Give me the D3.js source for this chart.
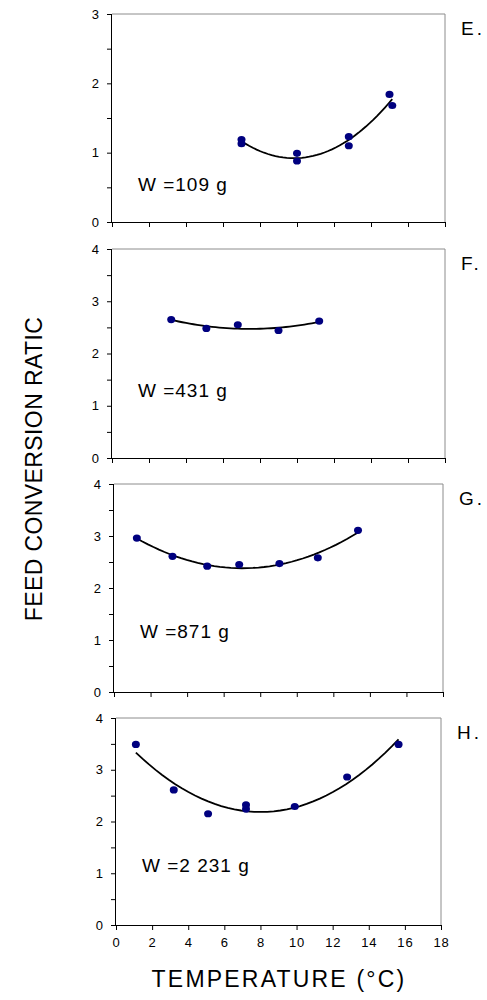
<!DOCTYPE html>
<html>
<head>
<meta charset="utf-8">
<script src="https://cdn.jsdelivr.net/npm/d3@7"></script>
<style>
  body { margin: 0; background: #fff; }
  svg text { font-family: "Liberation Sans", Arial, sans-serif; fill: #000; }
  .axis path, .axis line { stroke: #000; stroke-width: 1; }
  .axis text { font-size: 13px; }
  .x-axis text { letter-spacing: 0.8px; }
</style>
</head>
<body>
<svg id="chart" width="487" height="1000"></svg>
<script>
/*** DATA ***/
let panel_ids = ["E.", "F.", "G.", "H."],
    weight_labels = ["W =109 g", "W =431 g", "W =871 g", "W =2 231 g"],
    y_max = [3, 4, 4, 4],
    x_ticks = [0, 2, 4, 6, 8, 10, 12, 14, 16, 18];

let temp_e = [7.0, 7.0, 10.0, 10.0, 12.8, 12.8, 15.0, 15.15],
    fcr_e  = [1.19, 1.13, 0.99, 0.88, 1.23, 1.10, 1.84, 1.68];

let temp_f = [3.2, 5.1, 6.8, 9.0, 11.2],
    fcr_f  = [2.65, 2.48, 2.55, 2.44, 2.62];

let temp_g = [1.25, 3.2, 5.1, 6.85, 9.05, 11.15, 13.35],
    fcr_g  = [2.96, 2.61, 2.42, 2.45, 2.47, 2.58, 3.11];

let temp_h = [1.1, 3.2, 5.1, 7.2, 7.2, 9.9, 12.8, 15.65],
    fcr_h  = [3.49, 2.61, 2.15, 2.32, 2.24, 2.29, 2.86, 3.49];

let temps = [temp_e, temp_f, temp_g, temp_h],
    fcrs  = [fcr_e, fcr_f, fcr_g, fcr_h];

/*** LAYOUT ***/
let boxes = [
    {top: 14,  bottom: 222, left: 112, right: 445, label_dy: 177},
    {top: 249, bottom: 458, left: 112, right: 445, label_dy: 148},
    {top: 484, bottom: 692, left: 114, right: 443, label_dy: 154},
    {top: 718, bottom: 925, left: 116, right: 441, label_dy: 154}
];

let svg = d3.select("#chart");

// least squares quadratic (the trendline of the original chart)
function quad_fit(xs, ys) {
    let s = [0, 0, 0, 0, 0], t = [0, 0, 0];
    xs.forEach((x, i) => {
        for (let k = 0; k < 5; k++) s[k] += Math.pow(x, k);
        for (let k = 0; k < 3; k++) t[k] += ys[i] * Math.pow(x, k);
    });
    let m = [[s[0], s[1], s[2], t[0]], [s[1], s[2], s[3], t[1]], [s[2], s[3], s[4], t[2]]];
    for (let i = 0; i < 3; i++) {
        for (let j = i + 1; j < 3; j++) {
            let f = m[j][i] / m[i][i];
            for (let k = i; k < 4; k++) m[j][k] -= f * m[i][k];
        }
    }
    let c = [0, 0, 0];
    for (let i = 2; i >= 0; i--) {
        let v = m[i][3];
        for (let k = i + 1; k < 3; k++) v -= m[i][k] * c[k];
        c[i] = v / m[i][i];
    }
    return (x) => c[0] + c[1] * x + c[2] * x * x;
}

panel_ids.forEach((id, p) => {
    let b = boxes[p],
        xs = temps[p],
        ys = fcrs[p];

    let x = d3.scaleLinear().domain([0, 18]).range([b.left, b.right]),
        y = d3.scaleLinear().domain([0, y_max[p]]).range([b.bottom, b.top]);

    let g = svg.append("g");

    // grey frame on top and right
    g.append("path")
        .attr("d", `M${b.left},${b.top}H${b.right}V${b.bottom}`)
        .attr("fill", "none")
        .attr("stroke", "#8c8c8c")
        .attr("stroke-width", 1);

    // y axis: major ticks with labels, minor at halves
    g.append("g")
        .classed("axis", true)
        .attr("transform", `translate(${b.left},0)`)
        .call(d3.axisLeft(y).tickValues(d3.range(0, y_max[p] + 0.01, 0.5))
            .tickSize(5).tickPadding(8)
            .tickFormat((d) => Number.isInteger(d) ? d : ""))
        .call((a) => a.select(".domain").attr("d", `M-0.5,${b.top}V${b.bottom}`));

    // x axis
    g.append("g")
        .classed("axis", true)
        .classed("x-axis", true)
        .attr("transform", `translate(0,${b.bottom})`)
        .call(d3.axisBottom(x).tickValues(x_ticks).tickSize(5).tickPadding(8)
            .tickFormat(p === 3 ? d3.format("d") : () => ""))
        .call((a) => a.select(".domain").attr("d", `M${b.left},0.5H${b.right}`));

    // trendline
    let f = quad_fit(xs, ys),
        x0 = d3.min(xs), x1 = d3.max(xs),
        steps = d3.range(0, 41).map((i) => x0 + (x1 - x0) * i / 40);

    g.append("path")
        .datum(steps)
        .attr("fill", "none")
        .attr("stroke", "#000")
        .attr("stroke-width", 1.8)
        .attr("d", d3.line().x((d) => x(d)).y((d) => y(f(d))));

    // points
    g.selectAll("ellipse")
        .data(xs.map((d, i) => [d, ys[i]])).enter()
        .append("ellipse")
        .attr("cx", (d) => x(d[0]))
        .attr("cy", (d) => y(d[1]))
        .attr("rx", 4)
        .attr("ry", 3.6)
        .attr("fill", "#00007f");

    // weight label
    g.append("text")
        .attr("x", b.left + 26)
        .attr("y", b.top + b.label_dy)
        .attr("font-size", "19px")
        .attr("letter-spacing", "1px")
        .text(weight_labels[p]);

    // panel letter
    g.append("text")
        .attr("x", b.right + 16)
        .attr("y", b.top + 21)
        .attr("font-size", "19px")
        .attr("letter-spacing", "3px")
        .text(id);
});

// axis titles
svg.append("text")
    .attr("x", 279)
    .attr("y", 987)
    .attr("text-anchor", "middle")
    .attr("font-size", "23px")
    .attr("letter-spacing", "2.2px")
    .text("TEMPERATURE (°C)");

svg.append("text")
    .attr("transform", "translate(42,469) rotate(-90)")
    .attr("text-anchor", "middle")
    .attr("font-size", "23px")
    .attr("letter-spacing", "0.4px")
    .text("FEED CONVERSION RATIC");
</script>
</body>
</html>
